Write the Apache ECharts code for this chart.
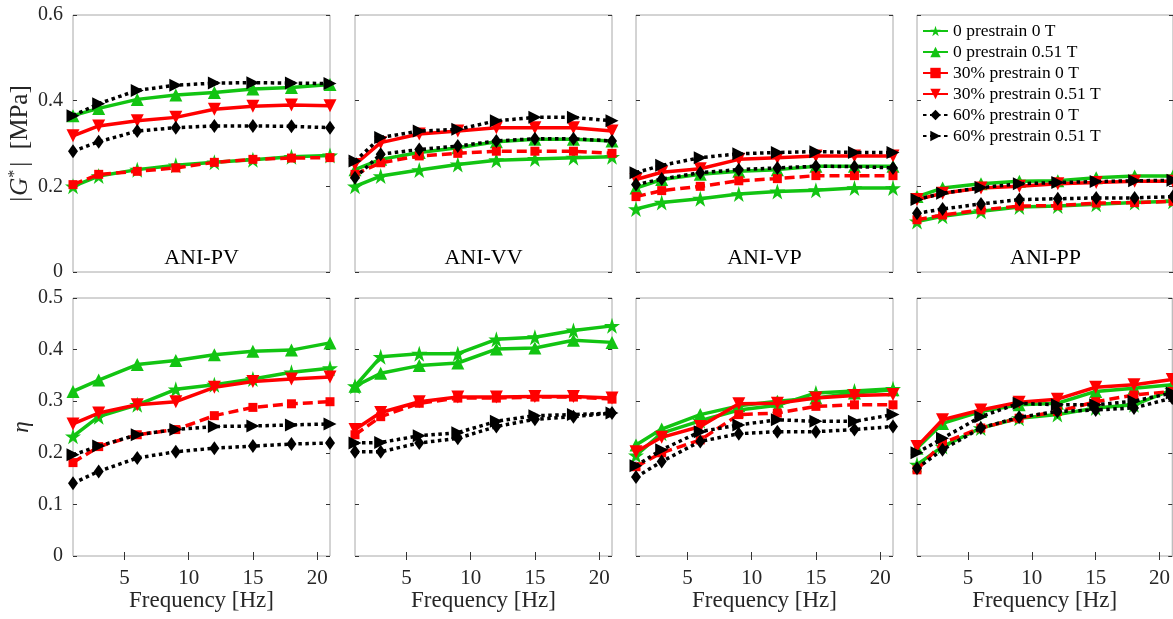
<!DOCTYPE html>
<html>
<head>
<meta charset="utf-8">
<script src="https://cdn.jsdelivr.net/npm/echarts@6/dist/echarts.min.js"></script>
<style>html,body{margin:0;padding:0;background:#fff}#c{width:1173px;height:619px}</style>
</head>
<body>
<div id="c"></div>
<script>
// ---- data ----
const freq = [1, 3, 6, 9, 12, 15, 18, 21];
const panels = ['ANI-PV', 'ANI-VV', 'ANI-VP', 'ANI-PP'];
const seriesNames = ['0 prestrain 0 T', '0 prestrain 0.51 T', '30% prestrain 0 T',
  '30% prestrain 0.51 T', '60% prestrain 0 T', '60% prestrain 0.51 T'];
const xTicks = [5, 10, 15, 20];

// |G*| [MPa], rows follow seriesNames
const G_PV = [
  [0.200, 0.224, 0.239, 0.249, 0.256, 0.262, 0.269, 0.272],
  [0.365, 0.382, 0.403, 0.413, 0.419, 0.427, 0.431, 0.438],
  [0.204, 0.228, 0.235, 0.243, 0.256, 0.263, 0.266, 0.267],
  [0.318, 0.341, 0.353, 0.361, 0.380, 0.387, 0.390, 0.388],
  [0.282, 0.304, 0.329, 0.337, 0.341, 0.341, 0.340, 0.337],
  [0.365, 0.393, 0.424, 0.436, 0.441, 0.442, 0.441, 0.440]
];
const G_VV = [
  [0.200, 0.224, 0.238, 0.251, 0.261, 0.264, 0.267, 0.269],
  [0.239, 0.263, 0.279, 0.290, 0.304, 0.310, 0.310, 0.306],
  [0.228, 0.255, 0.271, 0.277, 0.282, 0.282, 0.282, 0.277],
  [0.251, 0.302, 0.322, 0.329, 0.337, 0.337, 0.337, 0.329],
  [0.220, 0.275, 0.286, 0.294, 0.306, 0.311, 0.311, 0.306],
  [0.259, 0.314, 0.329, 0.333, 0.353, 0.361, 0.361, 0.353]
];
const G_VP = [
  [0.147, 0.162, 0.171, 0.182, 0.188, 0.191, 0.196, 0.196],
  [0.196, 0.216, 0.228, 0.235, 0.239, 0.247, 0.247, 0.247],
  [0.176, 0.190, 0.200, 0.213, 0.218, 0.225, 0.225, 0.225],
  [0.216, 0.233, 0.241, 0.263, 0.267, 0.271, 0.271, 0.271],
  [0.204, 0.217, 0.232, 0.239, 0.243, 0.247, 0.246, 0.243],
  [0.232, 0.249, 0.267, 0.276, 0.279, 0.281, 0.279, 0.279]
];
const G_PP = [
  [0.118, 0.130, 0.142, 0.152, 0.154, 0.158, 0.162, 0.165],
  [0.176, 0.196, 0.206, 0.212, 0.213, 0.220, 0.224, 0.224],
  [0.122, 0.133, 0.145, 0.154, 0.155, 0.161, 0.162, 0.165],
  [0.169, 0.184, 0.196, 0.200, 0.206, 0.209, 0.212, 0.212],
  [0.137, 0.147, 0.159, 0.169, 0.171, 0.173, 0.173, 0.176],
  [0.169, 0.184, 0.197, 0.206, 0.209, 0.211, 0.213, 0.214]
];
// eta (loss factor)
const ETA_PV = [
  [0.232, 0.270, 0.293, 0.323, 0.332, 0.343, 0.356, 0.364],
  [0.319, 0.341, 0.371, 0.379, 0.390, 0.397, 0.399, 0.413],
  [0.181, 0.212, 0.235, 0.245, 0.272, 0.288, 0.295, 0.299],
  [0.256, 0.277, 0.293, 0.299, 0.327, 0.338, 0.343, 0.347],
  [0.141, 0.164, 0.190, 0.202, 0.209, 0.213, 0.217, 0.219],
  [0.196, 0.213, 0.235, 0.245, 0.251, 0.252, 0.254, 0.256]
];
const ETA_VV = [
  [0.329, 0.386, 0.392, 0.392, 0.420, 0.424, 0.437, 0.446],
  [0.329, 0.354, 0.369, 0.374, 0.401, 0.403, 0.418, 0.414],
  [0.235, 0.270, 0.296, 0.306, 0.306, 0.308, 0.308, 0.304],
  [0.245, 0.278, 0.299, 0.308, 0.308, 0.309, 0.309, 0.306],
  [0.202, 0.202, 0.219, 0.228, 0.251, 0.265, 0.270, 0.277],
  [0.219, 0.220, 0.233, 0.239, 0.261, 0.272, 0.274, 0.277]
];
const ETA_VP = [
  [0.195, 0.238, 0.262, 0.283, 0.292, 0.316, 0.320, 0.324],
  [0.215, 0.246, 0.274, 0.291, 0.300, 0.306, 0.316, 0.322],
  [0.173, 0.200, 0.225, 0.274, 0.277, 0.290, 0.293, 0.293],
  [0.202, 0.230, 0.251, 0.295, 0.296, 0.306, 0.311, 0.313],
  [0.153, 0.183, 0.222, 0.237, 0.241, 0.241, 0.245, 0.251],
  [0.175, 0.206, 0.241, 0.254, 0.264, 0.261, 0.261, 0.274]
];
const ETA_PP = [
  [0.177, 0.212, 0.248, 0.267, 0.274, 0.287, 0.293, 0.322],
  [0.209, 0.257, 0.280, 0.293, 0.296, 0.319, 0.325, 0.332],
  [0.167, 0.219, 0.248, 0.267, 0.280, 0.299, 0.312, 0.319],
  [0.212, 0.264, 0.283, 0.298, 0.304, 0.327, 0.332, 0.342],
  [0.170, 0.206, 0.248, 0.269, 0.280, 0.283, 0.287, 0.306],
  [0.200, 0.228, 0.270, 0.296, 0.293, 0.293, 0.300, 0.316]
];

// ---- styling ----
const FONT = 'Liberation Serif';
const GREEN = '#12c412', RED = '#ff0000', BLACK = '#000000';
const STAR = 'path://M50,0 L61.2,34.5 L97.6,34.5 L68.2,55.9 L79.4,90.5 L50,69.1 L20.6,90.5 L31.8,55.9 L2.4,34.5 L38.8,34.5 Z';
const styles = [
  { color: GREEN, type: 'solid', symbol: STAR, size: 16, rot: 0 },
  { color: GREEN, type: 'solid', symbol: 'triangle', size: 13, rot: 0 },
  { color: RED, type: [10, 5], symbol: 'rect', size: 9, rot: 0 },
  { color: RED, type: 'solid', symbol: 'triangle', size: 13, rot: 180 },
  { color: BLACK, type: [3.5, 3.5], symbol: 'diamond', size: [10, 14], rot: 0 },
  { color: BLACK, type: [3.5, 3.5], symbol: 'triangle', size: 13, rot: -90 }
];

const colLeft = [73, 355, 636, 917];
const colW = 257;
const rowTop = [15, 298];
const rowH = [257, 258];
const rowData = [[G_PV, G_VV, G_VP, G_PP], [ETA_PV, ETA_VV, ETA_VP, ETA_PP]];
const rowMax = [0.6, 0.5];
const rowInt = [0.2, 0.1];

const grid = [], xAxis = [], yAxis = [], series = [], graphic = [];
const tickColor = '#333';
for (let r = 0; r < 2; r++) {
  for (let c = 0; c < 4; c++) {
    const g = grid.length;
    grid.push({ left: colLeft[c], top: rowTop[r], width: colW, height: rowH[r],
      show: true, borderColor: '#a8a8a8', borderWidth: 1, backgroundColor: '#fff' });
    const showX = r === 1;
    xAxis.push({ type: 'value', gridIndex: g, min: 1, max: 21, position: 'bottom',
      axisLine: { show: false }, splitLine: { show: false },
      axisTick: { show: showX, inside: true, length: 4, customValues: xTicks, lineStyle: { color: tickColor } },
      axisLabel: { show: showX, customValues: xTicks, margin: 12, fontFamily: FONT, fontSize: 21, color: '#262626' },
      name: showX ? 'Frequency [Hz]' : '', nameLocation: 'middle', nameGap: 33,
      nameTextStyle: { fontFamily: FONT, fontSize: 23, color: '#262626' } });
    xAxis.push({ type: 'value', gridIndex: g, min: 1, max: 21, position: 'top',
      axisLine: { show: false }, splitLine: { show: false }, axisLabel: { show: false },
      axisTick: { show: showX, inside: true, length: 4, customValues: xTicks, lineStyle: { color: tickColor } } });
    const showY = c === 0;
    const yName = r === 0 ? '{a||}{g|G}{s|*}{a||  [MPa]}' : '{e|η}';
    yAxis.push({ type: 'value', gridIndex: g, min: 0, max: rowMax[r], interval: rowInt[r], position: 'left',
      axisLine: { show: false }, splitLine: { show: false },
      axisTick: { show: true, inside: true, length: 4, lineStyle: { color: tickColor } },
      axisLabel: { show: showY, margin: 10, fontFamily: FONT, fontSize: 20, color: '#262626' },
      name: showY ? yName : '', nameLocation: 'middle', nameGap: 40,
      nameTextStyle: { fontFamily: FONT, fontSize: 25, color: '#262626',
        rich: {
          a: { fontFamily: FONT, fontSize: 25, color: '#262626', padding: [0, 1] },
          g: { fontFamily: FONT, fontSize: 25, fontStyle: 'italic', color: '#262626' },
          s: { fontFamily: FONT, fontSize: 16, color: '#262626', verticalAlign: 'top', padding: [0, 2, 10, 0] },
          e: { fontFamily: FONT, fontSize: 23, fontStyle: 'italic', color: '#262626' }
        } } });
    yAxis.push({ type: 'value', gridIndex: g, min: 0, max: rowMax[r], interval: rowInt[r], position: 'right',
      axisLine: { show: false }, splitLine: { show: false }, axisLabel: { show: false },
      axisTick: { show: true, inside: true, length: 4, lineStyle: { color: tickColor } } });

    const tbl = rowData[r][c];
    for (let s = 0; s < 6; s++) {
      const st = styles[s];
      series.push({
        type: 'line', name: seriesNames[s], xAxisIndex: 2 * g, yAxisIndex: 2 * g,
        data: freq.map((f, i) => [f, tbl[s][i]]),
        clip: false, silent: true, animation: false,
        symbol: st.symbol, symbolSize: st.size, symbolRotate: st.rot, showSymbol: true,
        lineStyle: { color: st.color, width: 3.5, type: st.type, cap: 'butt' },
        itemStyle: { color: st.color, borderWidth: 0 },
        z: 2 + s
      });
    }
    if (r === 0) {
      graphic.push({ type: 'text', x: colLeft[c] + colW / 2, y: 258,
        style: { text: panels[c], align: 'center', verticalAlign: 'middle',
          font: '22px "' + FONT + '"', fill: '#000' }, z: 100 });
    }
  }
}

const chart = echarts.init(document.getElementById('c'), null, { renderer: 'canvas' });
chart.setOption({
  animation: false,
  backgroundColor: '#fff',
  grid, xAxis, yAxis, series, graphic,
  legend: {
    data: seriesNames, orient: 'vertical', left: 922, top: 22, padding: 0,
    itemWidth: 25, itemHeight: 13, itemGap: 3, selectedMode: false,
    textStyle: { fontFamily: FONT, fontSize: 17.5, color: '#000', lineHeight: 17 }
  }
});
</script>
</body>
</html>
